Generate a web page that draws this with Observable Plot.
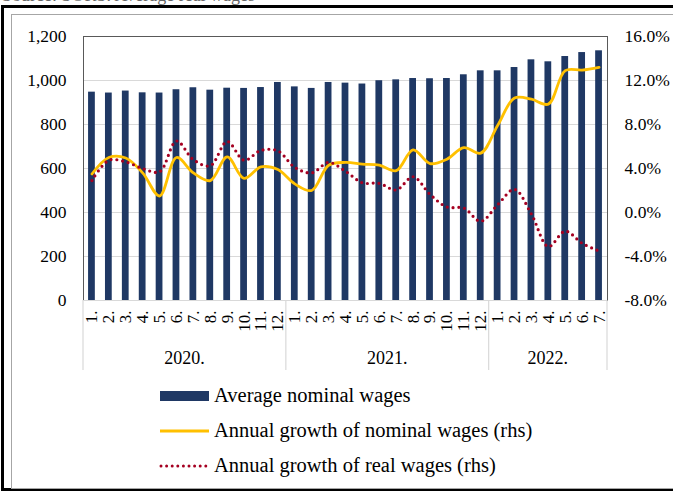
<!DOCTYPE html>
<html><head><meta charset="utf-8">
<script src="https://cdn.jsdelivr.net/npm/d3@7"></script>
<script src="https://cdn.jsdelivr.net/npm/@observablehq/plot@0.6"></script>
<style>
html,body{margin:0;padding:0;background:#fff;overflow:hidden;}
body{width:673px;height:493px;position:relative;font-family:"Liberation Serif","Times New Roman",serif;}
#cap{position:absolute;left:2px;top:-15px;font-size:18px;color:#666;white-space:nowrap;}
#outer{position:absolute;left:1px;top:5px;width:720px;height:480px;border:3px solid #000;border-right:none;}
#inner{position:absolute;left:11px;top:14px;width:720px;height:473px;border:1px solid #a6a6a6;border-right:none;}
#chart{position:absolute;left:0;top:0;}
#chart svg, #chart svg text{font-family:"Liberation Serif","Times New Roman",serif !important;}
#legend{position:absolute;left:158px;top:378px;font-size:20.5px;color:#000;}
.row{height:35px;display:flex;align-items:center;}
.row svg{margin-right:4px;}
</style>
</head><body>
<div id="cap">Source: SORS. Average real wages</div>
<div id="outer"></div>
<div id="inner"></div>
<div id="chart"></div>
<div id="legend"></div>
<script>
// ---- data ----
const yearLabels = ["2020.", "2021.", "2022."];
const monthsPerYear = [12, 12, 7];
const monthLabels = ["1.","2.","3.","4.","5.","6.","7.","8.","9.","10.","11.","12.",
                     "1.","2.","3.","4.","5.","6.","7.","8.","9.","10.","11.","12.",
                     "1.","2.","3.","4.","5.","6.","7."];
const nominalWages = [947, 943, 952, 944, 943, 958, 967, 956, 965, 964, 968, 991,
                      971, 964, 991, 988, 984, 999, 1003, 1009, 1008, 1009, 1026, 1044,
                      1044, 1059, 1094, 1085, 1109, 1127, 1135];
const nominalGrowth = [3.5, 5.0, 4.95, 3.6, 1.5, 5.0, 3.6, 2.9, 5.05, 3.1, 4.15, 3.9,
                       2.6, 2.0, 4.3, 4.55, 4.4, 4.3, 3.8, 5.7, 4.45, 4.85, 5.9, 5.4,
                       7.9, 10.4, 10.3, 9.85, 12.9, 12.95, 13.2];
const realGrowth = [2.9, 4.75, 4.6, 4.0, 3.7, 6.5, 4.8, 4.25, 6.45, 4.75, 5.65, 5.6,
                    4.1, 3.6, 4.55, 3.75, 2.7, 2.65, 2.05, 3.25, 1.65, 0.5, 0.4, -0.8,
                    0.7, 2.1, -0.15, -3.1, -1.7, -2.8, -3.5];
const leftTicks = [0, 200, 400, 600, 800, 1000, 1200];
const rightTicks = [-8, -4, 0, 4, 8, 12, 16];
const seriesNames = ["Average nominal wages", "Annual growth of nominal wages (rhs)", "Annual growth of real wages (rhs)"];

// ---- build table ----
const keys = [];
yearLabels.forEach((y, yi) => { for (let m = 0; m < monthsPerYear[yi]; m++) keys.push(y + (m + 1)); });
const rows = keys.map((k, i) => ({key: k, label: monthLabels[i], wage: nominalWages[i], nom: nominalGrowth[i], real: realGrowth[i]}));
const labelOf = new Map(rows.map(r => [r.key, r.label]));
// secondary axis mapping: -8%..16% onto 0..1200
const toY = p => (p + 8) * 50;

const navy = "#1f3864", gold = "#ffc000", red = "#a50021";
const font = "Liberation Serif";

const chart = Plot.plot({
  width: 673, height: 380,
  marginTop: 36, marginLeft: 83, marginRight: 66, marginBottom: 80,
  style: {fontFamily: font, fontSize: "17.5px", color: "#000", background: "transparent"},
  x: {domain: keys, paddingInner: 0.6, paddingOuter: 0.3, round: false, axis: null},
  y: {domain: [0, 1200], axis: null},
  marks: [
    Plot.gridY(leftTicks, {stroke: "#d9d9d9", strokeOpacity: 1, strokeWidth: 1}),
    Plot.frame({stroke: "#595959", strokeWidth: 1}),
    Plot.ruleY([0], {stroke: "#d9d9d9", strokeWidth: 1.2}),
    Plot.barY(rows, {x: "key", y: "wage", fill: navy}),
    Plot.line(rows, {x: "key", y: d => toY(d.nom), stroke: gold, strokeWidth: 2.8, curve: "catmull-rom"}),
    Plot.line(rows, {x: "key", y: d => toY(d.real), stroke: red, strokeWidth: 3.2, strokeDasharray: "0 5.8", strokeLinecap: "round", curve: "catmull-rom"}),
    Plot.axisY({anchor: "left", ticks: leftTicks, tickSize: 0, tickPadding: 17, tickFormat: d3.format(","), label: null, fontSize: 17.5}),
    Plot.axisY({anchor: "right", ticks: rightTicks.map(toY), tickSize: 0, tickPadding: 17, tickFormat: d => (d / 50 - 8).toFixed(1) + "%", label: null, fontSize: 17.5}),
    Plot.axisX({ticks: keys, tickRotate: -90, tickSize: 0, tickPadding: 10, tickFormat: k => labelOf.get(k), label: null, fontSize: 17})
  ]
});
document.getElementById("chart").appendChild(chart);

// year level of the category axis, positioned with the plot's own x scale
const sx = chart.scale("x");
const svg = d3.select(chart);
const half = (sx.step - sx.bandwidth) / 2;
const cellLeft = k => sx.apply(k) - half;
const rightEdge = sx.apply(keys[keys.length - 1]) + sx.bandwidth + half;
const yAxis = chart.scale("y").apply(0);
const g = svg.append("g");
let start = 0;
const bounds = [];
yearLabels.forEach((y, yi) => {
  const first = keys[start], last = keys[start + monthsPerYear[yi] - 1];
  const x0 = cellLeft(first), x1 = sx.apply(last) + sx.bandwidth + half;
  bounds.push(x0);
  g.append("text").attr("x", (x0 + x1) / 2).attr("y", yAxis + 64).attr("text-anchor", "middle")
    .attr("font-family", font).attr("font-size", 18).attr("fill", "#000").text(y);
  start += monthsPerYear[yi];
});
bounds.push(rightEdge);
bounds.forEach(x => g.append("line").attr("x1", x).attr("x2", x).attr("y1", yAxis).attr("y2", yAxis + 70)
  .attr("stroke", "#d9d9d9").attr("stroke-width", 1.2));

// legend
const leg = d3.select("#legend");
seriesNames.forEach((name, i) => {
  const r = leg.append("div").attr("class", "row");
  const s = r.append("svg").attr("width", 52).attr("height", 14);
  if (i === 0) s.append("rect").attr("x", 2).attr("y", 2).attr("width", 49).attr("height", 10).attr("fill", navy);
  else if (i === 1) s.append("line").attr("x1", 2).attr("x2", 51).attr("y1", 7).attr("y2", 7).attr("stroke", gold).attr("stroke-width", 2.8);
  else s.append("line").attr("x1", 3).attr("x2", 51).attr("y1", 7).attr("y2", 7).attr("stroke", red).attr("stroke-width", 3)
        .attr("stroke-dasharray", "0 5.6").attr("stroke-linecap", "round");
  r.append("span").text(name);
});
</script>
</body></html>
